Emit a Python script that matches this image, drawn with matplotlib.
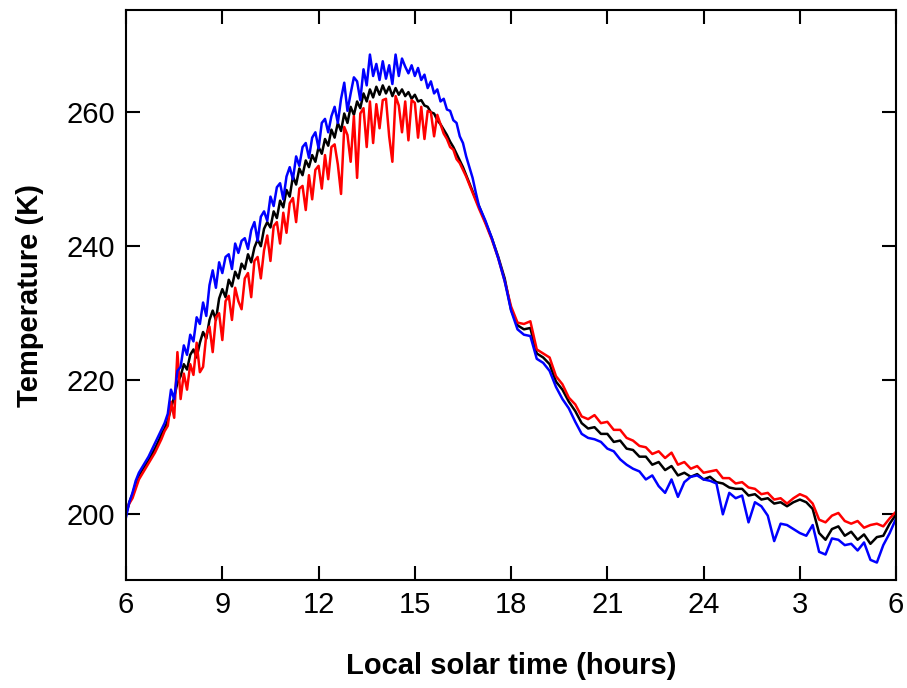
import matplotlib
matplotlib.use("Agg")
import matplotlib.pyplot as plt
import numpy as np

plt.rcParams['font.family'] = ['Liberation Sans Narrow', 'Liberation Sans', 'DejaVu Sans']

# time grid: 0.1 h steps through the day, 0.2 h steps through the night
hours = np.concatenate([np.linspace(6.0, 16.9, 110), np.linspace(17.0, 30.0, 66)])

temp_black = [
    200.0, 201.8, 203.0, 204.6, 205.8, 206.6, 207.3, 208.0, 208.9, 209.8,
    210.8, 211.9, 212.8, 214.0, 215.8, 217.5, 219.6, 220.6, 222.4, 221.6,
    223.8, 224.6, 223.4, 225.6, 227.2, 226.2, 229.0, 230.4, 229.0, 232.2,
    233.6, 232.4, 235.0, 234.0, 236.2, 235.2, 237.4, 236.6, 238.8, 237.6,
    239.8, 241.0, 240.0, 242.6, 243.6, 242.8, 245.2, 244.2, 246.8, 245.8,
    248.4, 247.4, 250.4, 249.2, 251.6, 250.6, 252.8, 251.8, 253.6, 252.6,
    254.8, 253.8, 256.0, 255.0, 257.4, 256.2, 258.4, 257.2, 259.8, 258.4,
    260.8, 259.6, 261.6, 260.6, 262.8, 261.6, 263.4, 262.2, 263.8, 262.6,
    264.0, 262.8, 263.8, 262.4, 263.6, 262.6, 263.4, 262.4, 263.0, 262.0,
    262.6, 261.6, 261.8, 261.0, 260.8, 260.0, 259.8, 258.8, 258.2, 257.4,
    256.6, 255.6, 254.8, 253.8, 252.8, 251.8, 250.6, 249.4, 248.2, 247.0,
    # night
    246.0, 243.6, 241.2, 238.4, 235.2, 230.5, 228.2, 227.6, 227.8, 224.0,
    223.4, 222.4, 219.8, 218.6, 216.8, 215.4, 213.6, 212.8, 213.0, 212.0,
    212.0, 210.8, 211.0, 209.8, 209.6, 208.6, 208.6, 207.4, 207.8, 206.6,
    207.2, 205.8, 206.2, 205.6, 206.0, 205.2, 205.6, 204.8, 204.6, 204.0,
    203.8, 203.8, 202.8, 203.0, 202.2, 202.4, 201.6, 201.8, 201.2, 201.8,
    202.2, 201.8, 200.8, 197.2, 196.2, 197.8, 198.2, 196.8, 197.4, 196.2,
    197.0, 195.6, 196.6, 196.8, 198.6, 200.0,
]

temp_red = [
    200.4, 201.6, 202.4, 203.8, 205.2, 206.0, 206.8, 207.6, 208.4, 209.2,
    210.2, 211.2, 212.4, 213.2, 216.8, 214.4, 224.2, 217.2, 221.0, 218.6,
    222.4, 220.8, 225.6, 221.2, 222.0, 226.8, 228.0, 224.2, 229.4, 230.0,
    226.0, 231.8, 232.6, 229.0, 233.8, 231.8, 230.6, 235.2, 236.0, 232.4,
    237.8, 238.4, 235.2, 239.4, 241.6, 237.8, 243.0, 243.6, 240.4, 245.0,
    242.0, 246.4, 247.2, 243.6, 248.6, 249.0, 245.4, 250.6, 247.0, 251.4,
    252.0, 248.6, 253.6, 250.0, 254.8, 255.2, 252.2, 247.8, 257.8, 256.6,
    252.6, 259.4, 250.2, 259.8, 260.6, 254.8, 261.6, 255.4, 261.2, 257.6,
    261.8, 262.0, 256.4, 252.6, 262.4, 261.0, 257.0, 261.6, 255.8, 261.8,
    261.4, 256.2, 260.8, 256.0, 260.2, 260.0, 256.4, 259.6, 258.2, 256.8,
    256.0, 254.8, 254.4, 253.0, 252.4, 251.4, 250.4, 249.2, 248.0, 246.8,
    # night
    245.6, 243.4, 241.0, 238.2, 234.8, 231.0, 228.6, 228.4, 228.8, 224.6,
    224.0, 223.4, 220.6, 219.4, 217.4, 216.4, 214.6, 214.2, 214.8, 213.6,
    213.8, 212.6, 212.6, 211.4, 211.0, 210.2, 210.0, 209.0, 209.4, 208.4,
    209.2, 207.4, 207.8, 206.8, 207.2, 206.2, 206.4, 206.6, 205.4, 205.4,
    204.6, 204.8, 204.0, 203.8, 203.0, 203.2, 202.2, 202.4, 201.6, 202.4,
    203.0, 202.6, 201.6, 199.2, 198.8, 199.8, 200.2, 199.0, 198.6, 199.0,
    198.0, 198.4, 198.6, 198.2, 199.4, 200.4,
]

temp_blue = [
    199.6, 201.8, 203.2, 205.0, 206.2, 207.0, 207.8, 208.6, 209.6, 210.6,
    211.6, 212.6, 213.6, 215.0, 218.6, 217.2, 221.4, 222.0, 225.2, 223.8,
    226.8, 225.8, 229.4, 228.4, 231.6, 229.6, 234.2, 236.4, 233.8, 237.6,
    236.0, 238.4, 238.8, 236.6, 240.4, 239.0, 240.8, 241.2, 239.6, 242.4,
    243.6, 240.8, 244.4, 245.2, 243.8, 247.4, 246.0, 248.8, 249.4, 247.0,
    250.4, 251.8, 250.0, 253.4, 252.0, 254.8, 255.4, 253.2, 256.2, 257.0,
    254.6, 258.4, 259.0, 257.0, 259.4, 260.8, 258.4, 262.0, 264.4, 260.2,
    262.8, 265.2, 264.6, 261.8, 266.4, 264.0, 268.6, 265.4, 267.2, 264.8,
    267.6, 265.0, 267.0, 264.2, 268.6, 265.4, 268.0, 266.8, 265.8, 267.0,
    265.4, 266.6, 264.8, 265.6, 263.6, 264.6, 262.8, 263.4, 261.6, 262.0,
    260.4, 260.2, 258.8, 258.4, 256.4, 255.4, 253.4, 251.8, 250.2, 248.0,
    # night
    246.0, 243.8, 241.2, 238.2, 234.8, 230.4, 227.6, 226.8, 226.6, 223.2,
    222.6, 221.4, 219.0, 217.2, 215.8, 213.8, 212.0, 211.4, 211.2, 210.8,
    209.8, 209.4, 208.2, 207.4, 206.8, 206.4, 205.2, 205.8, 204.2, 203.2,
    205.2, 202.6, 204.8, 205.6, 205.8, 205.2, 205.0, 204.6, 200.0, 203.2,
    202.4, 202.8, 198.8, 201.8, 201.2, 199.8, 196.0, 198.6, 198.4, 197.8,
    197.2, 196.8, 198.4, 194.4, 194.0, 196.4, 196.2, 195.4, 195.6, 194.6,
    195.8, 193.2, 192.8, 195.4, 197.2, 199.4,
]

xtick_pos = [6, 9, 12, 15, 18, 21, 24, 27, 30]
xtick_labels = ['6', '9', '12', '15', '18', '21', '24', '3', '6']
ytick_pos = [200, 220, 240, 260]

fig = plt.figure(figsize=(9.07, 6.88), dpi=100)
ax = fig.add_axes([0.139, 0.157, 0.849, 0.828])

ax.plot(hours, temp_black, color='black', lw=1.8)
ax.plot(hours, temp_red, color='red', lw=1.8)
ax.plot(hours, temp_blue, color='blue', lw=1.8)

ax.set_xlim(6, 30)
ax.set_ylim(190.2, 275.2)
ax.set_xticks(xtick_pos)
ax.set_xticklabels(xtick_labels)
ax.set_yticks(ytick_pos)
ax.tick_params(direction='in', length=10, width=1.5, labelsize=21,
               top=True, right=True, pad=8)
for s in ax.spines.values():
    s.set_linewidth(1.5)

ax.set_xlabel('Local solar time (hours)', fontsize=21, fontweight='bold', labelpad=24)
ax.set_ylabel('Temperature (K)', fontsize=21, fontweight='bold', labelpad=16)

fig.savefig('out.png', dpi=100)
